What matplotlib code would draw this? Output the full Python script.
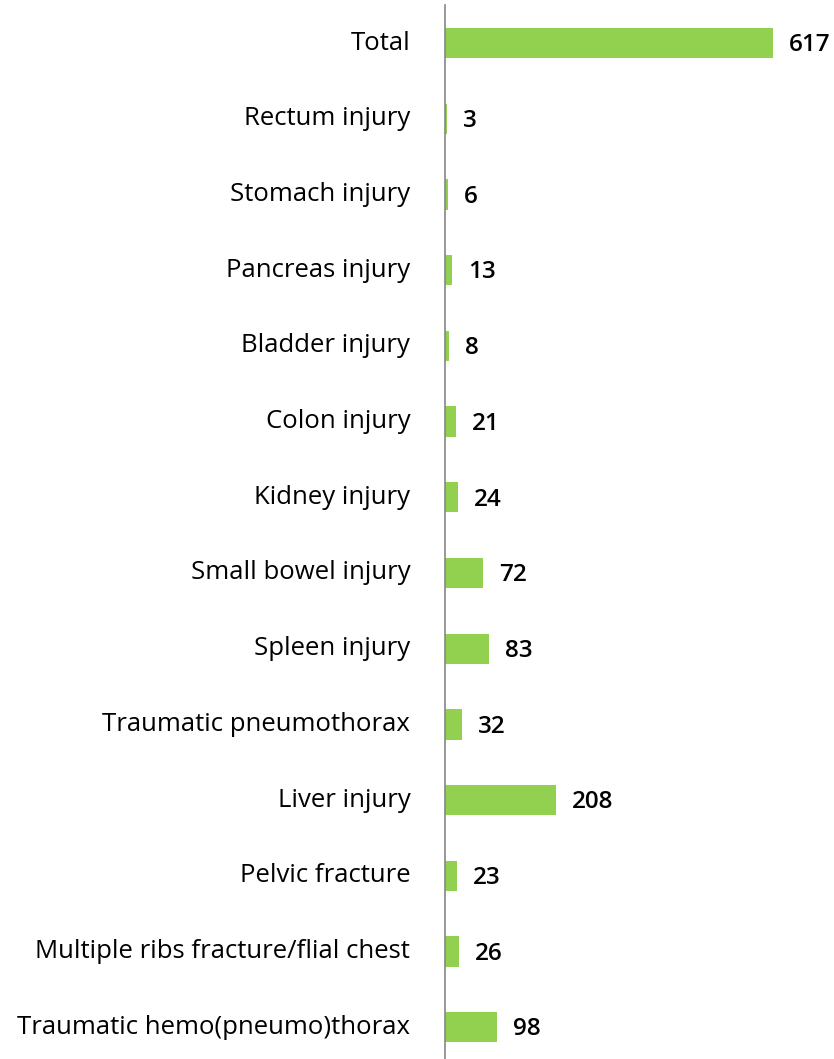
import matplotlib.pyplot as plt

categories = ["Total", "Rectum injury", "Stomach injury", "Pancreas injury",
              "Bladder injury", "Colon injury", "Kidney injury",
              "Small bowel injury", "Spleen injury", "Traumatic pneumothorax",
              "Liver injury", "Pelvic fracture",
              "Multiple ribs fracture/flial chest",
              "Traumatic hemo(pneumo)thorax"]
counts = [617, 3, 6, 13, 8, 21, 24, 72, 83, 32, 208, 23, 26, 98]

plt.rcParams['font.family'] = ['Open Sans', 'DejaVu Sans']

fig = plt.figure(figsize=(8.34, 10.59), dpi=100)
ax = fig.add_axes([445 / 834, 0.0, (834 - 445) / 834, (1059 - 5) / 1059])

pos = list(range(len(categories)))
ax.barh(pos, counts, height=0.4, color="#92D050")
ax.set_ylim(13.42, -0.502)
ax.set_xlim(0, 732)

for p, v in zip(pos, counts):
    ax.text(v + 30, p + 0.03, str(v), va="center", ha="left", fontsize=17.5,
            fontweight="semibold", color="black")

ax.set_yticks(pos)
ax.set_yticklabels(categories, fontsize=18.5, va="center")
for t in ax.get_yticklabels():
    t.set_y(t.get_position()[1])
ax.tick_params(axis="y", length=0, pad=25)
ax.set_xticks([])
for s in ["top", "right", "bottom"]:
    ax.spines[s].set_visible(False)
ax.spines["left"].set_color("#868686")
ax.spines["left"].set_linewidth(1.2)

fig.savefig("out.png", dpi=100)
